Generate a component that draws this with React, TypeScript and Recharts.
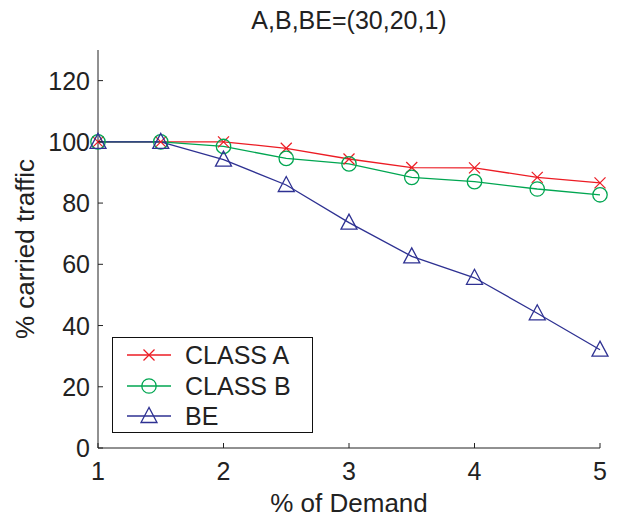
import React from "react";
import { LineChart, Line, XAxis, YAxis } from "recharts";

const demand = [1, 1.5, 2, 2.5, 3, 3.5, 4, 4.5, 5];
const classA = [100, 100, 100, 97.9, 94.4, 91.6, 91.5, 88.4, 86.6];
const classB = [100, 100, 98.5, 94.6, 92.8, 88.4, 87.0, 84.6, 82.7];
const be = [100, 100, 94.2, 85.9, 73.6, 62.6, 55.6, 44.0, 32.1];
const xTicks = [1, 2, 3, 4, 5];
const yTicks = [0, 20, 40, 60, 80, 100, 120];

const RED = "#ec1c24";
const GREEN = "#00a651";
const BLUE = "#2e3192";
const FONT = "'Liberation Sans', Arial, Helvetica, sans-serif";

const data = demand.map((d, i) => ({ x: d, a: classA[i], b: classB[i], be: be[i] }));

const CrossDot = (props: any) => {
  const { cx, cy } = props;
  if (cx == null || cy == null) return null;
  const s = 5.5;
  return (
    <g stroke={RED} strokeWidth={1.3}>
      <line x1={cx - s} y1={cy - s} x2={cx + s} y2={cy + s} />
      <line x1={cx - s} y1={cy + s} x2={cx + s} y2={cy - s} />
    </g>
  );
};
const CircleDot = (props: any) => {
  const { cx, cy } = props;
  if (cx == null || cy == null) return null;
  return <circle cx={cx} cy={cy} r={7.2} fill="none" stroke={GREEN} strokeWidth={1.3} />;
};
const TriDot = (props: any) => {
  const { cx, cy } = props;
  if (cx == null || cy == null) return null;
  const w = 8, h = 7.5;
  return (
    <polygon
      points={`${cx},${cy - h - 1} ${cx - w},${cy + h - 1} ${cx + w},${cy + h - 1}`}
      fill="none"
      stroke={BLUE}
      strokeWidth={1.3}
    />
  );
};

const YTick = (props: any) => {
  const { x, y, payload } = props;
  return (
    <g>
      <line x1={x} y1={y} x2={x + 5} y2={y} stroke="#222" strokeWidth={1} />
      <text x={x - 8} y={y + 9} textAnchor="end" fontSize={25} fill="#222" fontFamily={FONT}>
        {payload.value}
      </text>
    </g>
  );
};
const XTick = (props: any) => {
  const { x, y, payload } = props;
  return (
    <g>
      <line x1={x} y1={y} x2={x} y2={y - 5} stroke="#222" strokeWidth={1} />
      <text x={x} y={y + 32} textAnchor="middle" fontSize={25} fill="#222" fontFamily={FONT}>
        {payload.value}
      </text>
    </g>
  );
};

const legendItems = [
  { label: "CLASS A", color: RED, kind: "x" },
  { label: "CLASS B", color: GREEN, kind: "o" },
  { label: "BE", color: BLUE, kind: "t" },
];

const LegendBox = () => (
  <div
    style={{
      position: "absolute",
      left: 112,
      top: 337,
      width: 201,
      height: 96,
      border: "1.5px solid #111",
      background: "#fff",
      boxSizing: "border-box",
      paddingTop: 2,
      fontFamily: FONT,
    }}
  >
    {legendItems.map((it) => (
      <div key={it.label} style={{ display: "flex", alignItems: "center", height: 30.5 }}>
        <svg width={72} height={30} style={{ flex: "none" }}>
          <line x1={14} y1={15} x2={58} y2={15} stroke={it.color} strokeWidth={1.3} />
          {it.kind === "x" && (
            <g stroke={it.color} strokeWidth={1.3}>
              <line x1={30.5} y1={9.5} x2={41.5} y2={20.5} />
              <line x1={30.5} y1={20.5} x2={41.5} y2={9.5} />
            </g>
          )}
          {it.kind === "o" && <circle cx={36} cy={15} r={7.2} fill="none" stroke={it.color} strokeWidth={1.3} />}
          {it.kind === "t" && (
            <polygon points="36,6.5 28,21.5 44,21.5" fill="none" stroke={it.color} strokeWidth={1.3} />
          )}
        </svg>
        <span style={{ fontSize: 25, color: "#222", lineHeight: "30px" }}>{it.label}</span>
      </div>
    ))}
  </div>
);

export default function App() {
  return (
    <div style={{ position: "absolute", left: 0, top: 0, width: 624, height: 521, background: "#fff" }}>
      <LineChart width={624} height={521} data={data} margin={{ top: 50, right: 24, bottom: 0, left: 0 }}>
        <XAxis
          type="number"
          dataKey="x"
          domain={[1, 5]}
          ticks={xTicks}
          tickSize={0}
          tickMargin={0}
          height={73}
          tick={<XTick />}
          axisLine={{ stroke: "#222", strokeWidth: 1 }}
          tickLine={false}
        />
        <YAxis
          type="number"
          domain={[0, 130]}
          ticks={yTicks}
          tickSize={0}
          tickMargin={0}
          width={98}
          tick={<YTick />}
          axisLine={{ stroke: "#222", strokeWidth: 1 }}
          tickLine={false}
        />
        <Line dataKey="a" name="CLASS A" stroke={RED} strokeWidth={1.3} dot={<CrossDot />} isAnimationActive={false} />
        <Line dataKey="b" name="CLASS B" stroke={GREEN} strokeWidth={1.3} dot={<CircleDot />} isAnimationActive={false} />
        <Line dataKey="be" name="BE" stroke={BLUE} strokeWidth={1.3} dot={<TriDot />} isAnimationActive={false} />
      </LineChart>
      <LegendBox />
      <div
        style={{
          position: "absolute",
          left: 98,
          width: 502,
          top: 6,
          textAlign: "center",
          fontFamily: FONT,
          fontSize: 25,
          lineHeight: "29px",
          color: "#222",
        }}
      >
        A,B,BE=(30,20,1)
      </div>
      <div
        style={{
          position: "absolute",
          left: 98,
          width: 502,
          top: 488,
          textAlign: "center",
          fontFamily: FONT,
          fontSize: 26,
          lineHeight: "30px",
          color: "#222",
        }}
      >
        % of Demand
      </div>
      <div
        style={{
          position: "absolute",
          left: 25,
          top: 249,
          transform: "translate(-50%, -50%) rotate(-90deg)",
          whiteSpace: "nowrap",
          fontFamily: FONT,
          fontSize: 26,
          lineHeight: "30px",
          color: "#222",
        }}
      >
        % carried traffic
      </div>
    </div>
  );
}
